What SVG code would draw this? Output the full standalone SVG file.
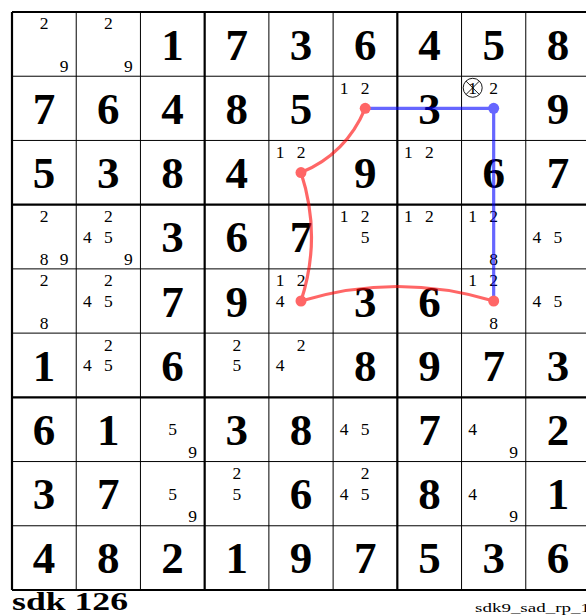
<svg xmlns="http://www.w3.org/2000/svg" width="586" height="616" viewBox="0 0 586 616">
<style>
.big{font-family:"Liberation Serif",serif;font-weight:bold;font-size:45px;text-anchor:middle;fill:#000}
.sm{font-family:"Liberation Serif",serif;font-size:17.5px;text-anchor:middle;fill:#000}
.thin{stroke:#000;stroke-width:1;fill:none}
.thick{stroke:#000;stroke-width:2.2;fill:none}
.red{stroke:#ff0000;stroke-opacity:0.6;stroke-width:3.2;fill:none}
.blue{stroke:#0000ff;stroke-opacity:0.6;stroke-width:3.2;fill:none}
</style>
<rect x="0" y="0" width="586" height="616" fill="#fff"/>
<g id="grid">
<path class="thin" d="M76.22,12V590M140.44,12V590M268.89,12V590M333.11,12V590M461.56,12V590M525.78,12V590M12,76.22H590M12,140.44H590M12,268.89H590M12,333.11H590M12,461.56H590M12,525.78H590"/>
<path class="thick" d="M12,12V590M204.67,12V590M397.33,12V590M590,12V590M12,12H590M12,204.67H590M12,397.33H590M12,590H590"/>
</g>
<g id="row0">
<g id="r0c0"><text class="sm" x="44.1" y="29.4">2</text><text class="sm" x="64.1" y="72.4">9</text></g>
<g id="r0c1"><text class="sm" x="108.3" y="29.4">2</text><text class="sm" x="128.3" y="72.4">9</text></g>
<g id="r0c2"><text class="big" x="172.6" y="59.6">1</text></g>
<g id="r0c3"><text class="big" x="236.8" y="59.6">7</text></g>
<g id="r0c4"><text class="big" x="301" y="59.6">3</text></g>
<g id="r0c5"><text class="big" x="365.2" y="59.6">6</text></g>
<g id="r0c6"><text class="big" x="429.4" y="59.6">4</text></g>
<g id="r0c7"><text class="big" x="493.7" y="59.6">5</text></g>
<g id="r0c8"><text class="big" x="557.9" y="59.6">8</text></g>
</g>
<g id="row1">
<g id="r1c0"><text class="big" x="44.1" y="123.8">7</text></g>
<g id="r1c1"><text class="big" x="108.3" y="123.8">6</text></g>
<g id="r1c2"><text class="big" x="172.6" y="123.8">4</text></g>
<g id="r1c3"><text class="big" x="236.8" y="123.8">8</text></g>
<g id="r1c4"><text class="big" x="301" y="123.8">5</text></g>
<g id="r1c5"><text class="sm" x="344.2" y="93.6">1</text><text class="sm" x="365.2" y="93.6">2</text></g>
<g id="r1c6"><text class="big" x="429.4" y="123.8">3</text></g>
<g id="r1c7"><circle cx="472.7" cy="87.8" r="9.5" fill="none" stroke="#000" stroke-width="0.9"/><path d="M466,81.1L479.4,94.5M479.4,81.1L466,94.5" stroke="#000" stroke-width="0.9"/><text class="sm" x="472.7" y="93.6">1</text><text class="sm" x="493.7" y="93.6">2</text></g>
<g id="r1c8"><text class="big" x="557.9" y="123.8">9</text></g>
</g>
<g id="row2">
<g id="r2c0"><text class="big" x="44.1" y="188.1">5</text></g>
<g id="r2c1"><text class="big" x="108.3" y="188.1">3</text></g>
<g id="r2c2"><text class="big" x="172.6" y="188.1">8</text></g>
<g id="r2c3"><text class="big" x="236.8" y="188.1">4</text></g>
<g id="r2c4"><text class="sm" x="280" y="157.9">1</text><text class="sm" x="301" y="157.9">2</text></g>
<g id="r2c5"><text class="big" x="365.2" y="188.1">9</text></g>
<g id="r2c6"><text class="sm" x="408.4" y="157.9">1</text><text class="sm" x="429.4" y="157.9">2</text></g>
<g id="r2c7"><text class="big" x="493.7" y="188.1">6</text></g>
<g id="r2c8"><text class="big" x="557.9" y="188.1">7</text></g>
</g>
<g id="row3">
<g id="r3c0"><text class="sm" x="44.1" y="222.1">2</text><text class="sm" x="44.1" y="265.1">8</text><text class="sm" x="64.1" y="265.1">9</text></g>
<g id="r3c1"><text class="sm" x="108.3" y="222.1">2</text><text class="sm" x="87.3" y="242.6">4</text><text class="sm" x="108.3" y="242.6">5</text><text class="sm" x="128.3" y="265.1">9</text></g>
<g id="r3c2"><text class="big" x="172.6" y="252.3">3</text></g>
<g id="r3c3"><text class="big" x="236.8" y="252.3">6</text></g>
<g id="r3c4"><text class="big" x="301" y="252.3">7</text></g>
<g id="r3c5"><text class="sm" x="344.2" y="222.1">1</text><text class="sm" x="365.2" y="222.1">2</text><text class="sm" x="365.2" y="242.6">5</text></g>
<g id="r3c6"><text class="sm" x="408.4" y="222.1">1</text><text class="sm" x="429.4" y="222.1">2</text></g>
<g id="r3c7"><text class="sm" x="472.7" y="222.1">1</text><text class="sm" x="493.7" y="222.1">2</text><text class="sm" x="493.7" y="265.1">8</text></g>
<g id="r3c8"><text class="sm" x="536.9" y="242.6">4</text><text class="sm" x="557.9" y="242.6">5</text></g>
</g>
<g id="row4">
<g id="r4c0"><text class="sm" x="44.1" y="286.3">2</text><text class="sm" x="44.1" y="329.3">8</text></g>
<g id="r4c1"><text class="sm" x="108.3" y="286.3">2</text><text class="sm" x="87.3" y="306.8">4</text><text class="sm" x="108.3" y="306.8">5</text></g>
<g id="r4c2"><text class="big" x="172.6" y="316.5">7</text></g>
<g id="r4c3"><text class="big" x="236.8" y="316.5">9</text></g>
<g id="r4c4"><text class="sm" x="280" y="286.3">1</text><text class="sm" x="301" y="286.3">2</text><text class="sm" x="280" y="306.8">4</text></g>
<g id="r4c5"><text class="big" x="365.2" y="316.5">3</text></g>
<g id="r4c6"><text class="big" x="429.4" y="316.5">6</text></g>
<g id="r4c7"><text class="sm" x="472.7" y="286.3">1</text><text class="sm" x="493.7" y="286.3">2</text><text class="sm" x="493.7" y="329.3">8</text></g>
<g id="r4c8"><text class="sm" x="536.9" y="306.8">4</text><text class="sm" x="557.9" y="306.8">5</text></g>
</g>
<g id="row5">
<g id="r5c0"><text class="big" x="44.1" y="380.7">1</text></g>
<g id="r5c1"><text class="sm" x="108.3" y="350.5">2</text><text class="sm" x="87.3" y="371">4</text><text class="sm" x="108.3" y="371">5</text></g>
<g id="r5c2"><text class="big" x="172.6" y="380.7">6</text></g>
<g id="r5c3"><text class="sm" x="236.8" y="350.5">2</text><text class="sm" x="236.8" y="371">5</text></g>
<g id="r5c4"><text class="sm" x="301" y="350.5">2</text><text class="sm" x="280" y="371">4</text></g>
<g id="r5c5"><text class="big" x="365.2" y="380.7">8</text></g>
<g id="r5c6"><text class="big" x="429.4" y="380.7">9</text></g>
<g id="r5c7"><text class="big" x="493.7" y="380.7">7</text></g>
<g id="r5c8"><text class="big" x="557.9" y="380.7">3</text></g>
</g>
<g id="row6">
<g id="r6c0"><text class="big" x="44.1" y="444.9">6</text></g>
<g id="r6c1"><text class="big" x="108.3" y="444.9">1</text></g>
<g id="r6c2"><text class="sm" x="172.6" y="435.2">5</text><text class="sm" x="192.6" y="457.7">9</text></g>
<g id="r6c3"><text class="big" x="236.8" y="444.9">3</text></g>
<g id="r6c4"><text class="big" x="301" y="444.9">8</text></g>
<g id="r6c5"><text class="sm" x="344.2" y="435.2">4</text><text class="sm" x="365.2" y="435.2">5</text></g>
<g id="r6c6"><text class="big" x="429.4" y="444.9">7</text></g>
<g id="r6c7"><text class="sm" x="472.7" y="435.2">4</text><text class="sm" x="513.7" y="457.7">9</text></g>
<g id="r6c8"><text class="big" x="557.9" y="444.9">2</text></g>
</g>
<g id="row7">
<g id="r7c0"><text class="big" x="44.1" y="509.2">3</text></g>
<g id="r7c1"><text class="big" x="108.3" y="509.2">7</text></g>
<g id="r7c2"><text class="sm" x="172.6" y="499.5">5</text><text class="sm" x="192.6" y="522">9</text></g>
<g id="r7c3"><text class="sm" x="236.8" y="479">2</text><text class="sm" x="236.8" y="499.5">5</text></g>
<g id="r7c4"><text class="big" x="301" y="509.2">6</text></g>
<g id="r7c5"><text class="sm" x="365.2" y="479">2</text><text class="sm" x="344.2" y="499.5">4</text><text class="sm" x="365.2" y="499.5">5</text></g>
<g id="r7c6"><text class="big" x="429.4" y="509.2">8</text></g>
<g id="r7c7"><text class="sm" x="472.7" y="499.5">4</text><text class="sm" x="513.7" y="522">9</text></g>
<g id="r7c8"><text class="big" x="557.9" y="509.2">1</text></g>
</g>
<g id="row8">
<g id="r8c0"><text class="big" x="44.1" y="573.4">4</text></g>
<g id="r8c1"><text class="big" x="108.3" y="573.4">8</text></g>
<g id="r8c2"><text class="big" x="172.6" y="573.4">2</text></g>
<g id="r8c3"><text class="big" x="236.8" y="573.4">1</text></g>
<g id="r8c4"><text class="big" x="301" y="573.4">9</text></g>
<g id="r8c5"><text class="big" x="365.2" y="573.4">7</text></g>
<g id="r8c6"><text class="big" x="429.4" y="573.4">5</text></g>
<g id="r8c7"><text class="big" x="493.7" y="573.4">3</text></g>
<g id="r8c8"><text class="big" x="557.9" y="573.4">6</text></g>
</g>
<g id="connectors">
<path class="blue" d="M365.22,108.33H493.67V301"/>
<path class="red" d="M365.22,108.33Q346,154 301,172.56Q322,237 301,301Q397.3,272 493.67,301"/>
<circle cx="365.22" cy="108.33" r="5.5" fill="#ff6666"/>
<circle cx="301" cy="172.56" r="5.5" fill="#ff6666"/>
<circle cx="301" cy="301" r="5.5" fill="#ff6666"/>
<circle cx="493.67" cy="301" r="5.5" fill="#ff6666"/>
<circle cx="493.67" cy="108.33" r="5.5" fill="#6666ff"/>
</g>
<g id="labels">
<text x="12" y="610" font-family="'Liberation Serif',serif" font-weight="bold" font-size="25" textLength="116" lengthAdjust="spacingAndGlyphs">sdk 126</text>
<text x="475" y="612" font-family="'Liberation Serif',serif" font-size="13" textLength="115" lengthAdjust="spacingAndGlyphs">sdk9_sad_rp_1</text>
</g>
</svg>
